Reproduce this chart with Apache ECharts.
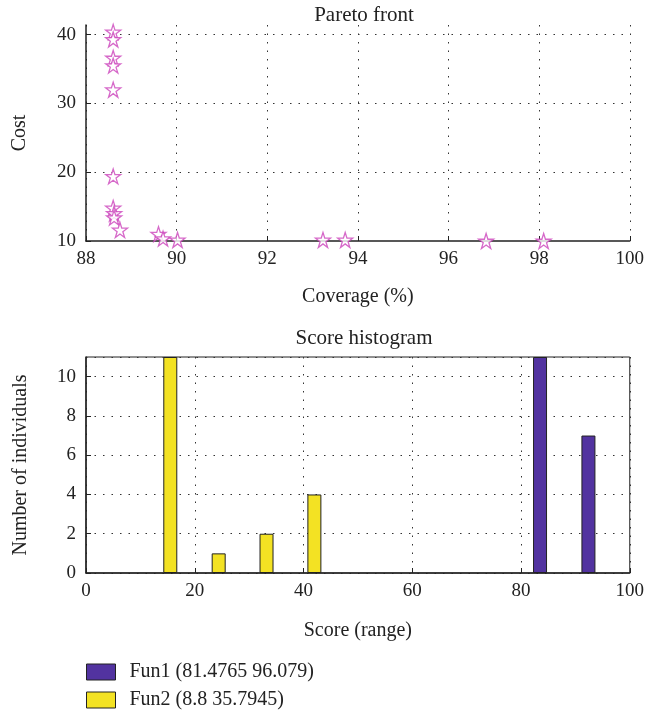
<!DOCTYPE html>
<html>
<head>
<meta charset="utf-8">
<script src="https://cdn.jsdelivr.net/npm/echarts@6/dist/echarts.min.js"></script>
<style>
  html, body { margin: 0; padding: 0; background: #fff; }
  #main { width: 647px; height: 712px; }
</style>
</head>
<body>
<div id="main"></div>
<script>
// Pareto front points
var coverage = [88.6, 88.6, 88.6, 88.6, 88.6, 88.6, 88.6, 88.62, 88.62, 88.75, 89.6, 89.7, 90.02, 93.23, 93.72, 96.83, 98.1];
var cost     = [40.4, 39.3, 36.6, 35.5, 32.0, 19.4, 14.8, 14.0, 13.4, 11.6, 11.0, 10.35, 10.15, 10.15, 10.15, 10.0, 10.0];

// Score histogram
var fun1Centers = [83.5, 92.4];
var fun1Counts  = [11, 7];
var fun2Centers = [15.5, 24.4, 33.2, 42.0];
var fun2Counts  = [11, 1, 2, 4];
var legendNames = ['Fun1 (81.4765 96.079)', 'Fun2 (8.8 35.7945)'];

var font = 'Liberation Serif';
var ink = '#222';
var starPath = 'path://M50 0 L61.23 34.55 L97.55 34.55 L68.17 55.9 L79.39 90.45 L50 69.1 L20.61 90.45 L31.83 55.9 L2.45 34.55 L38.77 34.55 Z';

function pairs(xs, ys) {
    return xs.map(function (x, i) { return [x, ys[i]]; });
}

// one legend block per row, stacked like the original
function legendRow(name, top) {
    return {
        left: 86, top: top, padding: 0,
        itemWidth: 29, itemHeight: 16, icon: 'rect',
        data: [name],
        itemStyle: { borderColor: ink, borderWidth: 1 },
        textStyle: { fontFamily: font, fontSize: 20, color: ink, padding: [0, 0, 0, 9] }
    };
}

var dotted = { color: '#333', type: [1.5, 7], width: 1 };
var labelStyle = { color: ink, fontFamily: font, fontSize: 19 };
var nameStyle = { color: ink, fontFamily: font, fontSize: 20 };

var chart = echarts.init(document.getElementById('main'));
chart.setOption({
    animation: false,
    backgroundColor: '#fff',
    title: [
        { text: 'Pareto front', left: 359, top: 0, textAlign: 'center',
          textStyle: { fontFamily: font, fontSize: 21, fontWeight: 'normal', color: ink } },
        { text: 'Score histogram', left: 359, top: 323, textAlign: 'center',
          textStyle: { fontFamily: font, fontSize: 21, fontWeight: 'normal', color: ink } }
    ],
    grid: [
        { left: 86, right: 15, top: 25, height: 216 },
        { left: 86, right: 14, top: 357, height: 216, show: true, borderColor: ink, borderWidth: 1 }
    ],
    legend: [legendRow(legendNames[0], 662), legendRow(legendNames[1], 690)],
    xAxis: [
        { gridIndex: 0, type: 'value', min: 88, max: 100, interval: 2,
          name: 'Coverage (%)', nameLocation: 'middle', nameGap: 46, nameTextStyle: nameStyle,
          axisLine: { lineStyle: { color: ink, width: 1.5 } },
          axisTick: { inside: true, length: 5, lineStyle: { color: ink } },
          axisLabel: Object.assign({ margin: 9 }, labelStyle),
          splitLine: { show: true, lineStyle: dotted } },
        { gridIndex: 1, type: 'value', min: 0, max: 100, interval: 20,
          name: 'Score (range)', nameLocation: 'middle', nameGap: 48, nameTextStyle: nameStyle,
          axisLine: { lineStyle: { color: ink, width: 1.5 } },
          axisTick: { inside: true, length: 5, lineStyle: { color: ink } },
          axisLabel: Object.assign({ margin: 9 }, labelStyle),
          splitLine: { show: true, lineStyle: dotted } }
    ],
    yAxis: [
        { gridIndex: 0, type: 'value', min: 10, max: 41.4, interval: 10,
          name: 'Cost', nameLocation: 'middle', nameGap: 56, nameTextStyle: nameStyle,
          axisLine: { show: true, lineStyle: { color: ink, width: 1.5 } },
          axisTick: { show: true, inside: true, length: 5, lineStyle: { color: ink } },
          axisLabel: Object.assign({ margin: 10, showMaxLabel: false }, labelStyle),
          splitLine: { show: true, lineStyle: Object.assign({}, dotted, {
              color: ['transparent', '#333', '#333', '#333', 'transparent'] }) } },
        { gridIndex: 1, type: 'value', min: 0, max: 11, interval: 2,
          name: 'Number of individuals', nameLocation: 'middle', nameGap: 55, nameTextStyle: nameStyle,
          axisLine: { show: true, lineStyle: { color: ink, width: 1.5 } },
          axisTick: { show: true, inside: true, length: 5, lineStyle: { color: ink } },
          axisLabel: Object.assign({ margin: 10, showMaxLabel: false }, labelStyle),
          splitLine: { show: true, lineStyle: dotted } }
    ],
    series: [
        {
            name: 'Pareto', type: 'scatter', xAxisIndex: 0, yAxisIndex: 0,
            symbol: starPath, symbolSize: 15,
            itemStyle: { color: '#fff', borderColor: '#cc44bb', borderWidth: 1.3 },
            data: pairs(coverage, cost)
        },
        {
            name: legendNames[0], type: 'bar', xAxisIndex: 1, yAxisIndex: 1,
            barWidth: 14, barGap: '-100%',
            itemStyle: { color: '#5233a0', borderColor: ink, borderWidth: 1 },
            data: pairs(fun1Centers, fun1Counts)
        },
        {
            name: legendNames[1], type: 'bar', xAxisIndex: 1, yAxisIndex: 1,
            barWidth: 14, barGap: '-100%',
            itemStyle: { color: '#f3e223', borderColor: ink, borderWidth: 1 },
            data: pairs(fun2Centers, fun2Counts)
        }
    ]
});
</script>
</body>
</html>
